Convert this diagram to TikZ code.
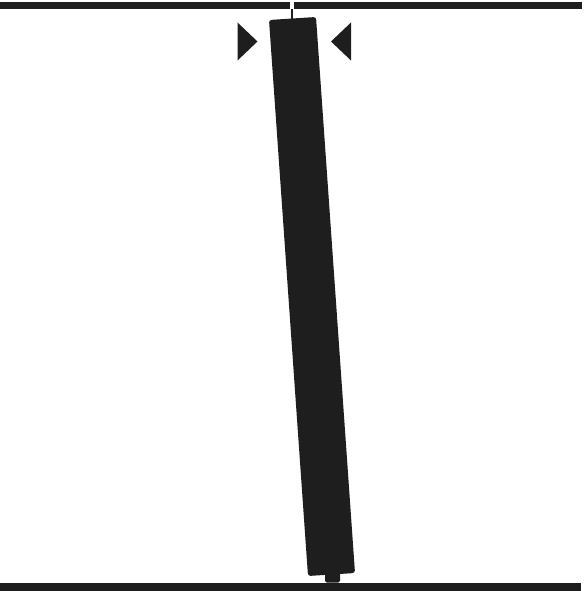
\documentclass[tikz,border=0pt]{standalone}
\usetikzlibrary{positioning}
\definecolor{Ink}{HTML}{1E1E1E}

\begin{document}
\begin{tikzpicture}[
  x=0.02cm, y=-0.02cm,
  bar/.style={fill=Ink, draw=none},
  rodbody/.style={fill=Ink, draw=none, rounded corners=1.5pt},
  marker/.style={fill=Ink, draw=none}
]

% Cadre
\useasboundingbox (0,0) rectangle (583,591);

% Barre du haut (avec fente)
\fill[bar] (0,2) rectangle (290,9);
\fill[bar] (294,2) rectangle (582,9);

% Barre du bas
\fill[bar] (0,582.5) rectangle (581,591);

% Tige de suspension
\coordinate (hook) at (292,9);
\coordinate (rodtop) at (292,20);
\draw[Ink, line width=1.2pt] (hook) -- (rodtop);

% Barreau incline
\fill[rodbody] (269,20) -- (316,17) -- (355,573) -- (308,576) -- cycle;

% Embout du bas
\fill[bar, rounded corners=1pt] (325,572) rectangle (340,582.6);

% Reperes
\fill[marker] (237.5,22.5) -- (257.5,41.5) -- (237.5,60.5) -- cycle;
\fill[marker] (351,22.5) -- (331,41.5) -- (351,60.5) -- cycle;
\end{tikzpicture}
\end{document}
